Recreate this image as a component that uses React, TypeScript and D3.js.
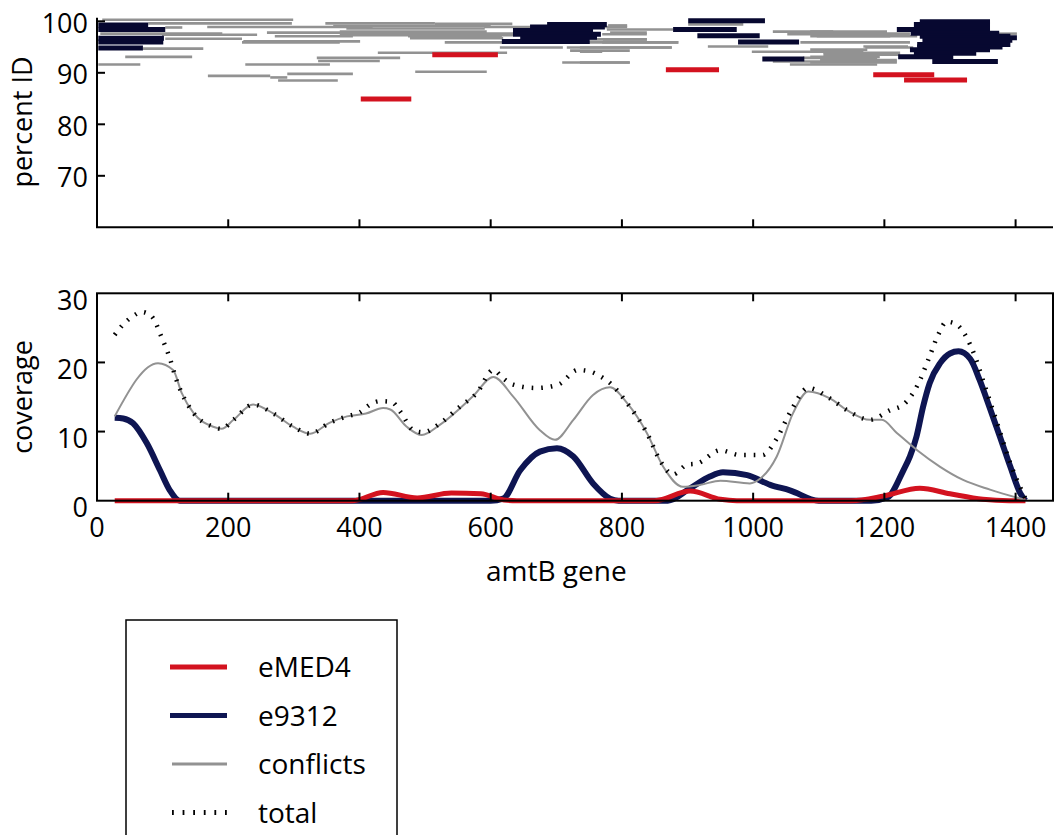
import React from 'react';
import * as d3 from 'd3';

type Read = [number, number, number]; // [start, end, percent ID]
type Pt = [number, number]; // [position, coverage]

const xTicks = [0, 200, 400, 600, 800, 1000, 1200, 1400];
const pidTicks = [70, 80, 90, 100];
const covTicks = [0, 10, 20, 30];
const legendLabels = ['eMED4', 'e9312', 'conflicts', 'total'];

const eMED4Reads: Read[] = [
  [402, 479, 84.9], [511, 611, 93.5], [867, 948, 90.6], [1183, 1276, 89.6], [1230, 1326, 88.6],
];

const e9312Reads: Read[] = [
  [2, 78, 99.3], [2, 104, 98.4], [2, 102, 96.7], [2, 101, 96.0], [2, 70, 94.8],
  [686, 777, 99.4], [660, 774, 98.9], [634, 756, 98.2], [634, 768, 97.5], [645, 762, 96.9], [617, 751, 96.1],
  [901, 1018, 100.1], [878, 975, 98.4], [915, 1010, 97.2], [977, 1070, 96.0], [1014, 1078, 92.7],
  [1254, 1361, 99.9], [1245, 1361, 99.4], [1219, 1361, 98.4], [1240, 1375, 97.7], [1254, 1392, 97.1],
  [1260, 1402, 96.8], [1258, 1395, 96.3], [1250, 1392, 95.5], [1250, 1380, 95.0], [1239, 1361, 94.5],
  [1245, 1340, 93.8], [1221, 1305, 93.1], [1273, 1373, 92.2],
];

const conflictReads: Read[] = [
  [8, 299, 100.3], [78, 297, 99.6], [104, 130, 98.8], [168, 420, 98.9], [380, 591, 98.6],
  [5, 191, 97.6], [99, 244, 97.4], [104, 221, 96.6], [221, 370, 95.9], [70, 162, 94.7],
  [43, 145, 93.1], [2, 66, 91.6], [226, 355, 91.6], [169, 264, 89.4], [264, 290, 89.1],
  [290, 390, 89.8], [276, 367, 88.5], [348, 515, 99.6], [515, 633, 99.5], [259, 440, 97.8],
  [271, 390, 97.1], [223, 401, 96.1], [335, 462, 92.9], [337, 431, 92.3], [360, 600, 99.1],
  [590, 808, 98.9], [370, 594, 98.0], [782, 838, 97.8], [370, 634, 97.3], [380, 649, 97.6],
  [474, 617, 97.1], [477, 619, 96.7], [530, 619, 95.9], [721, 886, 95.9], [771, 838, 96.5],
  [614, 710, 94.9], [716, 876, 94.9], [721, 812, 94.3], [428, 625, 93.9], [709, 812, 92.0],
  [485, 594, 90.2], [779, 808, 99.2], [777, 878, 98.4], [770, 838, 97.5], [751, 838, 96.5],
  [770, 886, 95.9], [931, 1023, 95.1], [736, 876, 94.9], [736, 770, 94.1], [736, 812, 92.0],
  [901, 985, 99.4], [1030, 1122, 98.0], [1052, 1229, 97.5], [1097, 1209, 97.1], [1072, 1239, 95.9],
  [1171, 1244, 94.9], [998, 1168, 94.1], [1107, 1224, 93.5], [1076, 1189, 92.9], [1030, 1219, 92.2],
  [1056, 1189, 91.6], [1372, 1402, 97.6], [1087, 1204, 98.0], [1122, 1239, 97.6], [1087, 1250, 97.1],
  [1168, 1236, 95.1], [1087, 1174, 94.5], [1107, 1224, 93.9], [1087, 1193, 93.1], [1102, 1219, 92.5],
  [1087, 1219, 92.0],
];

const eMED4Cov: Pt[] = [
  [27, 0], [390, 0], [436, 1.2], [488, 0.4], [540, 1.1], [585, 1.0], [620, 0.1], [640, 0],
  [850, 0], [904, 1.4], [950, 0.2], [975, 0], [1150, 0], [1200, 0.7], [1254, 1.8], [1300, 1.0],
  [1350, 0.2], [1390, 0], [1415, 0],
];

const e9312Cov: Pt[] = [
  [27, 12.0], [40, 11.9], [55, 11.2], [76, 8.3], [96, 4.4], [111, 1.5], [126, 0], [600, 0],
  [619, 0.3], [645, 4.4], [675, 7.1], [701, 7.6], [726, 6.4], [756, 2.5], [782, 0.3], [795, 0],
  [870, 0], [904, 1.8], [934, 3.5], [954, 4.1], [991, 3.7], [1026, 2.3], [1056, 1.5], [1100, 0],
  [1180, 0], [1205, 0.5], [1229, 4.4], [1239, 6.4], [1249, 9.3], [1259, 13.6], [1269, 17.0],
  [1285, 19.9], [1300, 21.3], [1313, 21.6], [1331, 20.5], [1345, 17.5], [1360, 13.6], [1376, 9.3],
  [1392, 4.9], [1407, 1.1], [1415, 0],
];

const conflictsCov: Pt[] = [
  [27, 12.2], [93, 19.9], [116, 18.9], [129, 15.6], [147, 12.7], [177, 10.7], [190, 10.4],
  [208, 11.7], [238, 13.9], [269, 12.6], [299, 10.7], [325, 9.7], [355, 11.3], [381, 12.2],
  [410, 12.6], [436, 13.4], [447, 13.2], [472, 10.7], [495, 9.5], [523, 11.0], [573, 15.1],
  [604, 17.9], [634, 15.1], [675, 10.2], [698, 8.8], [726, 11.7], [756, 15.3], [782, 16.4],
  [808, 14.1], [838, 9.8], [863, 4.9], [893, 2.0], [920, 2.3], [950, 2.9], [995, 2.5],
  [1011, 3.2], [1036, 6.4], [1061, 12.7], [1084, 15.8], [1117, 14.8], [1143, 13.1], [1178, 11.7],
  [1196, 11.7], [1219, 9.8], [1250, 7.3], [1285, 4.9], [1320, 3.0], [1361, 1.6], [1415, 0.1],
];

const totalCov: Pt[] = [
  [27, 24.0], [40, 25.5], [55, 26.7], [68, 27.3], [83, 26.7], [99, 23.5], [111, 20.6], [121, 17.5],
  [129, 15.6], [147, 12.7], [177, 10.7], [190, 10.4], [208, 11.7], [238, 13.9], [269, 12.6],
  [299, 10.7], [325, 9.7], [355, 11.3], [381, 12.2], [401, 12.8], [416, 13.9], [431, 14.4],
  [449, 14.3], [462, 12.9], [482, 10.2], [497, 9.9], [523, 11.2], [553, 13.6], [579, 15.6],
  [604, 18.9], [619, 17.7], [634, 16.8], [670, 16.3], [703, 16.8], [733, 18.9], [751, 18.7],
  [767, 18.0], [782, 17.0], [808, 14.1], [838, 9.8], [860, 5.5], [878, 3.8], [899, 5.2],
  [915, 5.4], [950, 7.3], [980, 6.6], [1014, 6.6], [1036, 9.0], [1056, 12.7], [1084, 16.3],
  [1117, 14.8], [1143, 13.1], [1178, 11.7], [1209, 13.1], [1229, 13.9], [1251, 16.8], [1267, 20.4],
  [1282, 24.0], [1295, 25.9], [1310, 25.5], [1323, 24.0], [1338, 20.9], [1350, 17.5], [1372, 11.2],
  [1392, 5.4], [1415, 0.3],
];

const RED = '#d3121f';
const NAVY = '#0e1552';
const NAVY_TOP = '#070830';
const GRAY = '#929292';
const FONT = '"Open Sans", "DejaVu Sans", sans-serif';

export default function App() {
  const W = 1055, H = 835;
  const x = d3.scaleLinear().domain([0, 1457]).range([97, 1053]);
  const yTop = d3.scaleLinear().domain([60, 100.7]).range([227.3, 17.7]);
  const yBot = d3.scaleLinear().domain([0, 30]).range([500.7, 293.3]);
  const line = d3.line<Pt>().x(d => x(d[0])).y(d => yBot(d[1])).curve(d3.curveMonotoneX);

  const tickFs = 27;
  const tl = 8;

  const seg = (r: Read, i: number, color: string, w: number) => (
    <line key={i} x1={x(r[0])} x2={x(r[1])} y1={yTop(r[2])} y2={yTop(r[2])} stroke={color} strokeWidth={w} />
  );

  const [x0, x1] = x.range();
  const [bTop, bBot] = [yBot(30), yBot(0)];

  return (
    <svg width={W} height={H} style={{ position: 'absolute', left: 0, top: 0, background: '#fff' }}
      fontFamily={FONT}>
      {/* ---------- Top panel: percent ID ---------- */}
      <g>
        {conflictReads.map((r, i) => seg(r, i, GRAY, 2.6))}
        {e9312Reads.map((r, i) => seg(r, i, NAVY_TOP, 5))}
        {eMED4Reads.map((r, i) => seg(r, i, RED, 5))}
        <line x1={x0} x2={x0} y1={17.7} y2={yTop(60)} stroke="#000" strokeWidth={2} />
        <line x1={x0 - 1} x2={x1} y1={yTop(60)} y2={yTop(60)} stroke="#000" strokeWidth={2} />
        {pidTicks.map(t => (
          <g key={t}>
            <line x1={x0} x2={x0 + tl} y1={yTop(t)} y2={yTop(t)} stroke="#000" strokeWidth={2} />
            <text x={88} y={yTop(t) + 2 + 0.357 * tickFs} fontSize={tickFs} textAnchor="end">{t}</text>
          </g>
        ))}
        {xTicks.filter(t => t > 0).map(t => (
          <line key={t} x1={x(t)} x2={x(t)} y1={yTop(60)} y2={yTop(60) - tl} stroke="#000" strokeWidth={2} />
        ))}
        <text transform={`translate(32,122) rotate(-90)`} fontSize={27} textAnchor="middle">percent ID</text>
      </g>

      {/* ---------- Bottom panel: coverage ---------- */}
      <g>
        <path d={line(e9312Cov) || ''} fill="none" stroke={NAVY} strokeWidth={6} strokeLinejoin="round" />
        <path d={line(eMED4Cov) || ''} fill="none" stroke={RED} strokeWidth={5} strokeLinejoin="round" />
        <path d={line(conflictsCov) || ''} fill="none" stroke={GRAY} strokeWidth={2} />
        <path d={line(totalCov) || ''} fill="none" stroke="#000" strokeWidth={4.5} strokeDasharray="1.6 8" />
        <rect x={x0} y={bTop} width={x1 - x0} height={bBot - bTop} fill="none" stroke="#000" strokeWidth={2} />
        {xTicks.filter(t => t > 0).map(t => (
          <g key={t}>
            <line x1={x(t)} x2={x(t)} y1={bBot} y2={bBot - tl} stroke="#000" strokeWidth={2} />
            <line x1={x(t)} x2={x(t)} y1={bTop} y2={bTop + tl} stroke="#000" strokeWidth={2} />
          </g>
        ))}
        {covTicks.filter(t => t > 0 && t < 30).map(t => (
          <g key={t}>
            <line x1={x0} x2={x0 + tl} y1={yBot(t)} y2={yBot(t)} stroke="#000" strokeWidth={2} />
            <line x1={x1} x2={x1 - tl} y1={yBot(t)} y2={yBot(t)} stroke="#000" strokeWidth={2} />
          </g>
        ))}
        {covTicks.map(t => (
          <text key={t} x={88} y={yBot(t) + 7 + 0.357 * tickFs} fontSize={tickFs} textAnchor="end">{t}</text>
        ))}
        {xTicks.map(t => (
          <text key={t} x={x(t)} y={536.6} fontSize={tickFs} textAnchor="middle">{t}</text>
        ))}
        <text x={(x(0) + x(1400)) / 2} y={581} fontSize={28} textAnchor="middle">amtB gene</text>
        <text transform={`translate(32,397) rotate(-90)`} fontSize={27} textAnchor="middle">coverage</text>
      </g>

      {/* ---------- Legend ---------- */}
      <g>
        <rect x={126} y={620} width={271} height={240} fill="#fff" stroke="#000" strokeWidth={1.5} />
        {legendLabels.map((lab, i) => {
          const ly = 667 + i * 48.5;
          let mark;
          if (i === 0) mark = <line x1={170} x2={227} y1={ly} y2={ly} stroke={RED} strokeWidth={5} />;
          else if (i === 1) mark = <line x1={170} x2={227} y1={ly} y2={ly} stroke={NAVY} strokeWidth={5} />;
          else if (i === 2) mark = <line x1={172} x2={227} y1={ly} y2={ly} stroke={GRAY} strokeWidth={3} />;
          else mark = <line x1={172} x2={228} y1={ly} y2={ly} stroke="#000" strokeWidth={5} strokeDasharray="1.8 8.8" />;
          return (
            <g key={lab}>
              {mark}
              <text x={258} y={677 + i * 48.5} fontSize={28}>{lab}</text>
            </g>
          );
        })}
      </g>
    </svg>
  );
}
